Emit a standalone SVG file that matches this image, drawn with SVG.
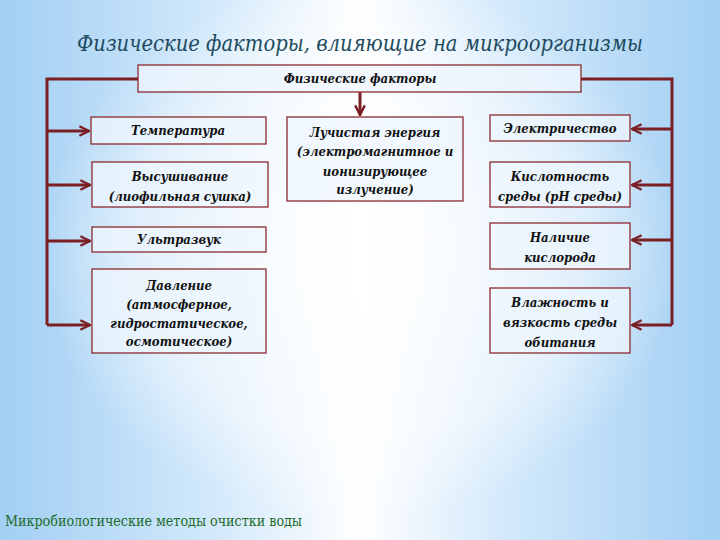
<svg xmlns="http://www.w3.org/2000/svg" width="720" height="540" viewBox="0 0 720 540">
<defs>
<linearGradient id="bg" x1="0" y1="0" x2="1" y2="0">
<stop offset="0" stop-color="#a2cff3"/>
<stop offset="0.3" stop-color="#d3e9fb"/>
<stop offset="0.5" stop-color="#ffffff"/>
<stop offset="0.7" stop-color="#d3e9fb"/>
<stop offset="1" stop-color="#a2cff3"/>
</linearGradient>
<radialGradient id="glow" cx="360" cy="250" r="320" gradientUnits="userSpaceOnUse" gradientTransform="translate(360 250) scale(1 0.85) translate(-360 -250)">
<stop offset="0" stop-color="#ffffff" stop-opacity="0.9"/>
<stop offset="0.7" stop-color="#ffffff" stop-opacity="0.5"/>
<stop offset="1" stop-color="#ffffff" stop-opacity="0"/>
</radialGradient>
<marker id="ah" viewBox="0 0 10 10" refX="9" refY="5" markerWidth="4" markerHeight="4" orient="auto" markerUnits="strokeWidth">
<path d="M1,1 L9,5 L1,9" fill="none" stroke="#7a1f24" stroke-width="2"/>
</marker>
<style>
.box{fill:#eef6fd;fill-opacity:0.75;stroke:#8b2a30;stroke-width:1.3}
.t{font-family:"DejaVu Serif Condensed","DejaVu Serif",serif;font-stretch:condensed;font-style:italic;font-weight:bold;font-size:13px;fill:#111;text-anchor:middle}
.c{fill:none;stroke:#7a1f24;stroke-width:3}
</style>
</defs>
<rect width="720" height="540" fill="url(#bg)"/>
<ellipse cx="360" cy="250" rx="330" ry="270" fill="url(#glow)"/>
<text x="360" y="51" font-family="'DejaVu Serif Condensed','DejaVu Serif',serif" font-stretch="condensed" font-style="italic" font-size="23" fill="#1d4a5e" text-anchor="middle" textLength="566" lengthAdjust="spacingAndGlyphs">Физические факторы, влияющие на микроорганизмы</text>

<g id="connectors">
<path class="c" d="M138,79 H47 V325"/>
<path class="c" d="M581,79 H672 V325"/>
<path class="c" d="M47,131 H89" marker-end="url(#ah)"/>
<path class="c" d="M47,185 H90" marker-end="url(#ah)"/>
<path class="c" d="M47,241 H90" marker-end="url(#ah)"/>
<path class="c" d="M47,325 H90" marker-end="url(#ah)"/>
<path class="c" d="M672,129 H632" marker-end="url(#ah)"/>
<path class="c" d="M672,185 H632" marker-end="url(#ah)"/>
<path class="c" d="M672,240 H632" marker-end="url(#ah)"/>
<path class="c" d="M672,325 H632" marker-end="url(#ah)"/>
<path class="c" d="M360,92 V115" marker-end="url(#ah)"/>
</g>

<g id="root"><rect class="box" x="138" y="65" width="443" height="27"/><text class="t" x="360" y="83" font-size="12">Физические факторы</text></g>
<g id="temp"><rect class="box" x="91" y="117" width="175" height="27"/><text class="t" x="178" y="135">Температура</text></g>
<g id="dry"><rect class="box" x="92" y="162" width="176" height="45"/><text class="t" x="180" y="181">Высушивание</text><text class="t" x="180" y="201">(лиофильная сушка)</text></g>
<g id="us"><rect class="box" x="92" y="227" width="174" height="25"/><text class="t" x="179" y="244">Ультразвук</text></g>
<g id="press"><rect class="box" x="92" y="269" width="174" height="84"/><text class="t" x="179" y="290">Давление</text><text class="t" x="179" y="309">(атмосферное,</text><text class="t" x="179" y="328">гидростатическое,</text><text class="t" x="179" y="346">осмотическое)</text></g>
<g id="rad"><rect class="box" x="287" y="117" width="176" height="84"/><text class="t" x="375" y="137">Лучистая энергия</text><text class="t" x="375" y="156">(электромагнитное и</text><text class="t" x="375" y="176">ионизирующее</text><text class="t" x="375" y="194">излучение)</text></g>
<g id="elec"><rect class="box" x="490" y="115" width="140" height="26"/><text class="t" x="560" y="133">Электричество</text></g>
<g id="acid"><rect class="box" x="490" y="162" width="140" height="45"/><text class="t" x="560" y="181">Кислотность</text><text class="t" x="560" y="201">среды (рН среды)</text></g>
<g id="oxy"><rect class="box" x="490" y="223" width="140" height="46"/><text class="t" x="560" y="242">Наличие</text><text class="t" x="560" y="262">кислорода</text></g>
<g id="hum"><rect class="box" x="490" y="288" width="140" height="65"/><text class="t" x="560" y="307">Влажность и</text><text class="t" x="560" y="327">вязкость среды</text><text class="t" x="560" y="347">обитания</text></g>

<text x="5" y="526" font-family="'DejaVu Serif Condensed','DejaVu Serif',serif" font-stretch="condensed" font-size="14" fill="#1e6b2e" textLength="297" lengthAdjust="spacingAndGlyphs">Микробиологические методы очистки воды</text>
</svg>
